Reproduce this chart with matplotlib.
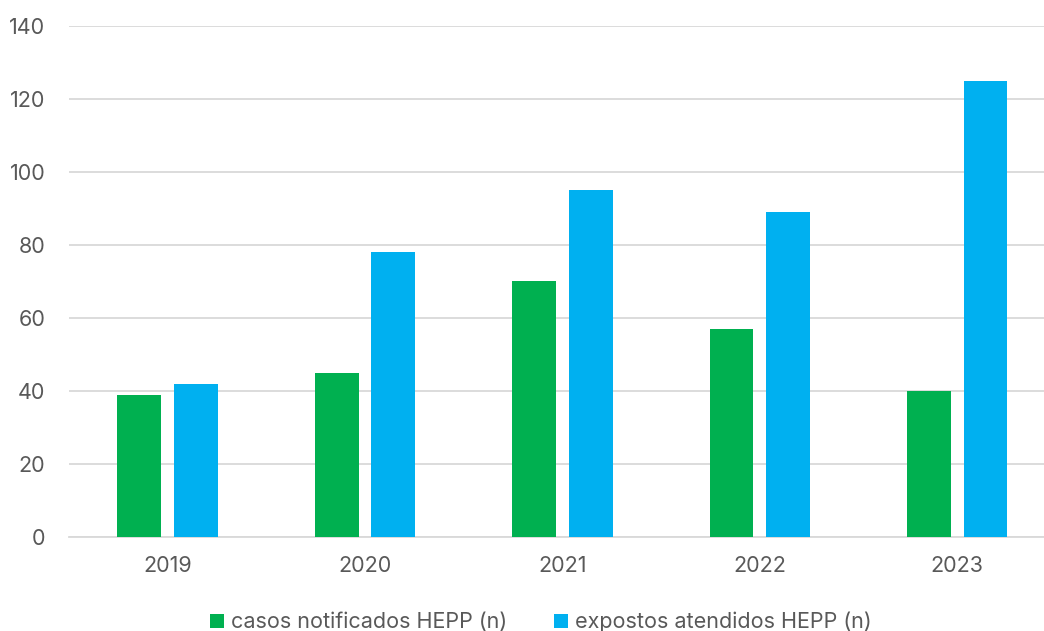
import matplotlib
matplotlib.use("Agg")
import matplotlib.pyplot as plt
import numpy as np

# --- Data ---
years = ["2019", "2020", "2021", "2022", "2023"]
casos_notificados = [39, 45, 70, 57, 40]
expostos_atendidos = [42, 78, 95, 89, 125]

GREEN = "#00B050"
BLUE = "#00B0F0"
TEXT = "#595959"
GRID = "#D9D9D9"

plt.rcParams["font.family"] = ["Inter", "DejaVu Sans"]

fig = plt.figure(figsize=(10.44, 6.31), dpi=100)
# plot area runs slightly past the right edge of the canvas
ax = fig.add_axes([0.066, 0.149, 0.9454, 0.81])

x = np.arange(len(years))
width = 0.222
offset = 0.143

ax.bar(x - offset, casos_notificados, width, color=GREEN,
       label="casos notificados HEPP (n)", zorder=3)
ax.bar(x + offset, expostos_atendidos, width, color=BLUE,
       label="expostos atendidos HEPP (n)", zorder=3)

ax.set_xlim(-0.5, len(years) - 0.5)
ax.set_ylim(0, 140)
ax.set_yticks(np.arange(0, 141, 20))
ax.set_xticks(x)
ax.set_xticklabels(years)

ax.yaxis.grid(True, color=GRID, linewidth=1.3, zorder=0)
ax.set_axisbelow(True)
for side in ("top", "right", "left"):
    ax.spines[side].set_visible(False)
ax.spines["bottom"].set_color(GRID)
ax.spines["bottom"].set_linewidth(1.3)

ax.tick_params(axis="both", length=0, labelsize=15.5, colors=TEXT)
ax.tick_params(axis="y", pad=17)
ax.tick_params(axis="x", pad=14)

leg = fig.legend(*ax.get_legend_handles_labels(), loc="center",
                 bbox_to_anchor=(0.518, 0.014), bbox_transform=fig.transFigure,
                 ncol=2, frameon=False, fontsize=15.5, handlelength=0.65,
                 handleheight=0.65, handletextpad=0.3, columnspacing=2.2,
                 borderaxespad=0, borderpad=0)
for t in leg.get_texts():
    t.set_color(TEXT)

fig.savefig("out.png", dpi=100)
